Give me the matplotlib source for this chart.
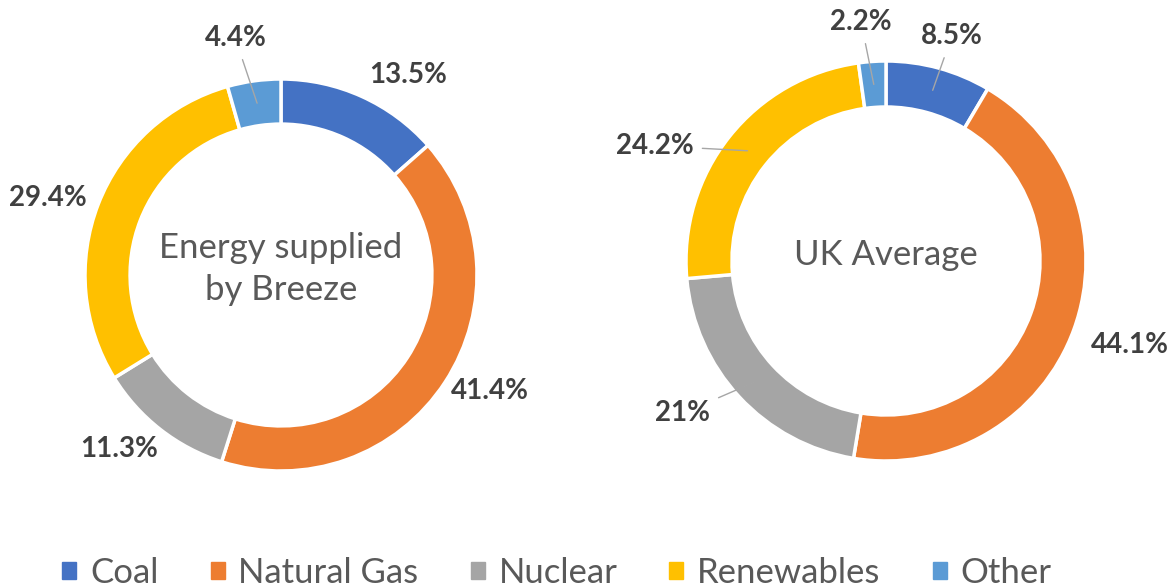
import numpy as np
import matplotlib.pyplot as plt

categories = ["Coal", "Natural Gas", "Nuclear", "Renewables", "Other"]
breeze_vals = [13.5, 41.4, 11.3, 29.4, 4.4]
breeze_labels = ["13.5%", "41.4%", "11.3%", "29.4%", "4.4%"]
uk_vals = [8.5, 44.1, 21, 24.2, 2.2]
uk_labels = ["8.5%", "44.1%", "21%", "24.2%", "2.2%"]

colors = ["#4472C4", "#ED7D31", "#A5A5A5", "#FFC000", "#5B9BD5"]

plt.rcParams['font.family'] = ['Lato', 'DejaVu Sans']

fig = plt.figure(figsize=(11.75, 5.88), dpi=100)

# axes boxes in pixels: center x, center y (from top), outer radius
def donut_axes(cx, cy, r):
    W, H = 1175, 588
    return fig.add_axes([(cx - r) / W, 1 - (cy + r) / H, 2 * r / W, 2 * r / H])


def draw_donut(ax, vals, labels, title, lab_r, nudge, leader):
    wedges, _ = ax.pie(vals, colors=colors, startangle=90, counterclock=False,
                       radius=1, wedgeprops=dict(width=0.23, edgecolor="white", linewidth=2.5))
    ax.set_xlim(-1, 1)
    ax.set_ylim(-1, 1)
    ax.axis("off")
    for w, lab, r, dn, ld in zip(wedges, labels, lab_r, nudge, leader):
        mid = np.deg2rad((w.theta1 + w.theta2) / 2)
        ang = mid + np.deg2rad(dn)
        tx, ty = r * np.cos(ang), r * np.sin(ang)
        kw = dict(ha="center", va="center", fontsize=20, fontweight="bold",
                  color="#404040", annotation_clip=False)
        if ld:
            ax.annotate(lab, xy=(0.885 * np.cos(mid), 0.885 * np.sin(mid)), xytext=(tx, ty),
                        bbox=dict(boxstyle="square,pad=0.3", fc="none", ec="none"),
                        arrowprops=dict(arrowstyle="-", color="#a6a6a6", lw=1.0,
                                        shrinkA=0, shrinkB=0), **kw)
        else:
            ax.annotate(lab, xy=(tx, ty), **kw)
    ax.text(0, 0.03, title, ha="center", va="center", fontsize=25, color="#595959",
            linespacing=1.4)


ax1 = donut_axes(281, 275, 196)
draw_donut(ax1, breeze_vals, breeze_labels, "Energy supplied\nby Breeze",
           [1.21, 1.22, 1.21, 1.25, 1.23], [-8, 4, -5, 3, 3],
           [False, False, False, False, True])

ax2 = donut_axes(886, 261, 200)
draw_donut(ax2, uk_vals, uk_labels, "UK Average",
           [1.17, 1.29, 1.27, 1.29, 1.2], [-1, 1, -6, 12, 2],
           [True, False, True, True, True])

handles = [plt.Rectangle((0, 0), 1, 1, color=c) for c in colors]
fig.legend(handles, categories, loc="lower center", bbox_to_anchor=(0.474, -0.055),
           ncol=5, frameon=False, fontsize=25, labelcolor="#595959",
           handlelength=0.4, handleheight=0.4, handletextpad=0.4, columnspacing=1.5)

fig.savefig("out.png", dpi=100)
